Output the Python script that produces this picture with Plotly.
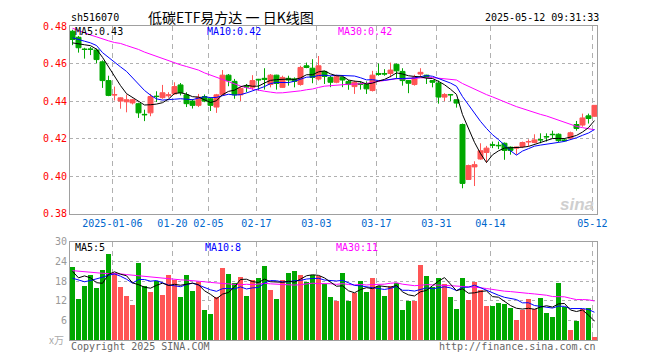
import plotly.graph_objects as go
import pandas as pd

# ---------------- data ----------------
opens = [0.4772, 0.4740, 0.4677, 0.4678, 0.4672, 0.4609, 0.4509, 0.4432, 0.4400, 0.4396,
         0.4390, 0.4386, 0.4329, 0.4337, 0.4426, 0.4418, 0.4428, 0.4438, 0.4486, 0.4433,
         0.4400, 0.4377, 0.4424, 0.4412, 0.4368, 0.4433, 0.4538, 0.4505, 0.4433, 0.4479,
         0.4473, 0.4516, 0.4521, 0.4488, 0.4538, 0.4473, 0.4521, 0.4518, 0.4488, 0.4588,
         0.4575, 0.4517, 0.4558, 0.4526, 0.4500, 0.4526, 0.4505, 0.4477, 0.4495, 0.4488,
         0.4456, 0.4547, 0.4547, 0.4547, 0.4596, 0.4558, 0.4509, 0.4488, 0.4544, 0.4538,
         0.4509, 0.4496, 0.4421, 0.4435, 0.4407, 0.4275, 0.3982, 0.4049, 0.4091, 0.4126,
         0.4167, 0.4164, 0.4175, 0.4154, 0.4149, 0.4158, 0.4182, 0.4179, 0.4195, 0.4211,
         0.4223, 0.4223, 0.4193, 0.4202, 0.4275, 0.4272, 0.4321, 0.4319]
highs = [0.4780, 0.4747, 0.4684, 0.4688, 0.4680, 0.4617, 0.4535, 0.4477, 0.4420, 0.4435,
         0.4412, 0.4391, 0.4354, 0.4438, 0.4452, 0.4486, 0.4447, 0.4500, 0.4496, 0.4447,
         0.4410, 0.4438, 0.4435, 0.4420, 0.4438, 0.4565, 0.4544, 0.4518, 0.4477, 0.4491,
         0.4538, 0.4518, 0.4575, 0.4544, 0.4540, 0.4535, 0.4535, 0.4526, 0.4588, 0.4605,
         0.4623, 0.4640, 0.4561, 0.4535, 0.4540, 0.4530, 0.4512, 0.4509, 0.4505, 0.4505,
         0.4561, 0.4600, 0.4570, 0.4605, 0.4600, 0.4575, 0.4512, 0.4540, 0.4575, 0.4540,
         0.4512, 0.4509, 0.4442, 0.4437, 0.4409, 0.4280, 0.4061, 0.4079, 0.4175, 0.4161,
         0.4184, 0.4184, 0.4179, 0.4158, 0.4156, 0.4184, 0.4196, 0.4223, 0.4228, 0.4228,
         0.4242, 0.4228, 0.4202, 0.4237, 0.4294, 0.4333, 0.4333, 0.4377]
lows = [0.4698, 0.4658, 0.4626, 0.4645, 0.4602, 0.4470, 0.4426, 0.4403, 0.4359, 0.4340,
        0.4382, 0.4310, 0.4293, 0.4319, 0.4395, 0.4412, 0.4418, 0.4433, 0.4430, 0.4368,
        0.4360, 0.4368, 0.4394, 0.4347, 0.4337, 0.4430, 0.4479, 0.4412, 0.4400, 0.4447,
        0.4459, 0.4456, 0.4461, 0.4473, 0.4461, 0.4470, 0.4482, 0.4473, 0.4482, 0.4575,
        0.4495, 0.4509, 0.4491, 0.4474, 0.4495, 0.4474, 0.4460, 0.4438, 0.4461, 0.4438,
        0.4451, 0.4535, 0.4535, 0.4526, 0.4517, 0.4482, 0.4442, 0.4482, 0.4526, 0.4491,
        0.4473, 0.4386, 0.4400, 0.4400, 0.4365, 0.3935, 0.3979, 0.3947, 0.4087, 0.4070,
        0.4149, 0.4144, 0.4087, 0.4114, 0.4114, 0.4149, 0.4158, 0.4175, 0.4175, 0.4184,
        0.4202, 0.4179, 0.4184, 0.4196, 0.4242, 0.4263, 0.4280, 0.4316]
closes = [0.4728, 0.4684, 0.4675, 0.4675, 0.4621, 0.4509, 0.4430, 0.4434, 0.4417, 0.4407,
          0.4407, 0.4337, 0.4327, 0.4424, 0.4424, 0.4444, 0.4433, 0.4477, 0.4444, 0.4386,
          0.4377, 0.4421, 0.4400, 0.4377, 0.4433, 0.4538, 0.4509, 0.4433, 0.4468, 0.4475,
          0.4509, 0.4513, 0.4516, 0.4538, 0.4494, 0.4526, 0.4512, 0.4505, 0.4579, 0.4579,
          0.4526, 0.4588, 0.4531, 0.4500, 0.4530, 0.4512, 0.4488, 0.4500, 0.4488, 0.4465,
          0.4538, 0.4542, 0.4544, 0.4565, 0.4561, 0.4509, 0.4495, 0.4526, 0.4553, 0.4526,
          0.4500, 0.4421, 0.4435, 0.4433, 0.4389, 0.3961, 0.4056, 0.4061, 0.4135, 0.4149,
          0.4165, 0.4162, 0.4137, 0.4137, 0.4154, 0.4179, 0.4184, 0.4193, 0.4193, 0.4209,
          0.4221, 0.4189, 0.4189, 0.4231, 0.4254, 0.4310, 0.4307, 0.4377]
volumes = [22.4, 12.7, 16.6, 19.9, 16.0, 21.5, 26.3, 20.5, 16.3, 13.6,
           10.6, 23.6, 16.6, 14.8, 18.0, 13.9, 20.0, 18.5, 13.3, 20.0,
           15.1, 17.7, 9.1, 7.9, 13.3, 22.1, 20.3, 17.5, 19.4, 13.6,
           18.5, 18.9, 22.7, 15.4, 12.7, 18.5, 20.6, 21.2, 20.0, 17.9,
           20.0, 19.7, 17.3, 13.3, 11.9, 20.6, 12.1, 14.3, 18.2, 14.8,
           19.1, 16.6, 13.6, 16.6, 17.6, 9.1, 12.1, 11.9, 23.0, 19.7,
           16.3, 19.1, 17.3, 13.3, 9.4, 19.1, 12.4, 17.9, 15.4, 10.3,
           10.3, 11.5, 10.9, 9.7, 6.1, 9.1, 12.7, 9.4, 13.0, 8.2,
           7.0, 17.6, 10.0, 3.1, 5.8, 9.4, 9.7, 1.0]

# moving-average values before enough history exists
ma5_head = [0.4710, 0.4703, 0.4700, 0.4695]
ma10_head = [0.4737, 0.4726, 0.4719, 0.4710, 0.4696, 0.4658, 0.4631, 0.4605, 0.4582]
ma30_head = [0.4788, 0.4775, 0.4765, 0.4752, 0.4742, 0.4730, 0.4721, 0.4712, 0.4707, 0.4696,
             0.4687, 0.4675, 0.4661, 0.4649, 0.4637, 0.4626, 0.4616, 0.4603, 0.4593, 0.4584,
             0.4575, 0.4565, 0.4550, 0.4538, 0.4525, 0.4512, 0.4500, 0.4490, 0.4480]
vma5_head = [21.0, 19.0, 19.6, 19.0]
vma10_head = [18.9, 18.3, 17.8, 18.2, 18.6, 19.2, 19.8, 20.2, 19.5]
vma30_head = [21.2, 21.0, 20.8, 20.7, 20.5, 20.4, 20.3, 20.3, 20.2, 20.0,
              19.8, 19.6, 19.5, 19.3, 19.0, 18.8, 18.6, 18.5, 18.4, 18.3,
              18.2, 18.0, 17.8, 17.6, 17.4, 17.2, 17.0, 17.0, 16.9]

tick_index = [7, 17, 23, 31, 41, 51, 61, 70, 87]
tick_labels = ["2025-01-06", "01-20", "02-05", "02-17", "03-03", "03-17", "03-31", "04-14", "05-12"]

code = "sh516070"
title = "低碳ETF易方达 一 日K线图"
stamp = "2025-05-12 09:31:33"
price_ticks = [0.38, 0.40, 0.42, 0.44, 0.46, 0.48]
vol_ticks = [6, 12, 18, 24, 30]

# ---------------- computations ----------------
n = len(closes)
idx = list(range(n))


def ma(values, w, head):
    s = pd.Series(values).rolling(w).mean().tolist()
    return list(head) + s[len(head):]


ma5 = ma(closes, 5, ma5_head)
ma10 = ma(closes, 10, ma10_head)
ma30 = ma(closes, 30, ma30_head)
vma5 = ma(volumes, 5, vma5_head)
vma10 = ma(volumes, 10, vma10_head)
vma30 = ma(volumes, 30, vma30_head)

RED = "#ff5555"
GREEN = "#00a800"
vol_colors = [RED if c >= o else GREEN for o, c in zip(opens, closes)]

# ---------------- geometry ----------------
OFF = 8                      # page body margin offset
W, H = 660 - OFF, 360 - OFF
L, T = 70 - OFF, 21 - OFF
R = W - (597 - OFF)
B = H - (340 - OFF)
PW = W - L - R
PH = H - T - B
price_dom = [0.4025, 1.0]
vol_dom = [0.0, 0.3125]
xr = [-0.42, 87.42]
grid_x = [i - 0.35 for i in tick_index]


def px(x):
    return (x - OFF - L) / PW


def py(y):
    return (H - B - (y - OFF)) / PH


mono = "DejaVu Sans Mono"

fig = go.Figure()

fig.add_trace(go.Candlestick(
    x=idx, open=opens, high=highs, low=lows, close=closes,
    increasing=dict(line=dict(color=RED, width=1), fillcolor=RED),
    decreasing=dict(line=dict(color=GREEN, width=1), fillcolor=GREEN),
    whiskerwidth=0, xaxis="x", yaxis="y", showlegend=False, hoverinfo="skip"))

for series, col in [(ma30, "#ff00ff"), (ma10, "#0000ff"), (ma5, "#000000")]:
    fig.add_trace(go.Scatter(x=idx, y=series, mode="lines", line=dict(color=col, width=1),
                             xaxis="x", yaxis="y", showlegend=False, hoverinfo="skip"))

fig.add_trace(go.Bar(x=idx, y=volumes, marker=dict(color=vol_colors, line=dict(width=0)),
                     width=0.83, xaxis="x2", yaxis="y2", showlegend=False, hoverinfo="skip"))
for series, col in [(vma30, "#ff00ff"), (vma10, "#0000ff"), (vma5, "#000000")]:
    fig.add_trace(go.Scatter(x=idx, y=series, mode="lines", line=dict(color=col, width=1),
                             xaxis="x2", yaxis="y2", showlegend=False, hoverinfo="skip"))

axis_common = dict(showline=True, mirror=True, linecolor="#a0a0a0", linewidth=1,
                   zeroline=False, ticks="", fixedrange=True)

fig.update_layout(
    width=W, height=H,
    margin=dict(l=L, r=R, t=T, b=B),
    paper_bgcolor="white", plot_bgcolor="white",
    boxgap=0.17, boxgroupgap=0,
    bargap=0,
    xaxis=dict(domain=[0, 1], anchor="y", range=xr, tickmode="array",
               tickvals=grid_x, ticktext=tick_labels,
               tickfont=dict(family=mono, size=10, color="#0066cc"),
               showgrid=True, gridcolor="#b0b0b0", griddash="5px,4px", gridwidth=1,
               rangeslider=dict(visible=False), **axis_common),
    yaxis=dict(domain=price_dom, anchor="x", range=[0.38, 0.48], tickmode="array",
               tickvals=price_ticks, ticktext=[f"{v:.2f}" for v in price_ticks],
               tickfont=dict(family=mono, size=10, color="#ff0000"),
               showgrid=True, gridcolor="#b0b0b0", griddash="dot", gridwidth=1,
               **axis_common),
    xaxis2=dict(domain=[0, 1], anchor="y2", range=xr, tickmode="array",
                tickvals=grid_x, showticklabels=False,
                showgrid=True, gridcolor="#b0b0b0", griddash="5px,4px", gridwidth=1,
                **axis_common),
    yaxis2=dict(domain=vol_dom, anchor="x2", range=[0, 30], tickmode="array",
                tickvals=vol_ticks, ticktext=[str(v) for v in vol_ticks],
                tickfont=dict(family=mono, size=10, color="#999999"),
                showgrid=True, gridcolor="#b0b0b0", griddash="dot", gridwidth=1,
                **axis_common),
)

ann = []


def text(x, y, s, color="#000", size=10, family=mono, xanchor="left", **kw):
    ann.append(dict(x=px(x), y=py(y), xref="paper", yref="paper", text=s, showarrow=False,
                    xanchor=xanchor, yanchor="middle",
                    font=dict(family=family, size=size, color=color, **kw)))


text(69, 12, code, size=10)
text(231, 12, title, size=14, family="Noto Sans CJK SC", xanchor="center")
text(601, 12, stamp, size=10, xanchor="right")

text(73, 27, f"MA5:{ma5[-1]:.2f}", color="#000000")
text(205, 27, f"MA10:{ma10[-1]:.2f}", color="#0000ff")
text(336, 27, f"MA30:{ma30[-1]:.2f}", color="#ff00ff")

text(73, 246, f"MA5:{int(vma5[-1])}", color="#000000")
text(203, 246, f"MA10:{int(vma10[-1])}", color="#0000ff")
text(334, 246, f"MA30:{int(vma30[-1])}", color="#ff00ff")

text(66, 339, "x万", color="#aaaaaa", xanchor="right", family="Noto Sans CJK SC", size=10)
text(69, 347, "Copyright 2025 SINA.COM", color="#666666")
text(598, 347, "http://finance.sina.com.cn", color="#666666", xanchor="right")
text(596, 202, "sina", color="#cfcfcf", size=17, family="Liberation Sans", xanchor="right",
     style="italic", weight="bold")

fig.update_layout(annotations=ann)

fig.write_html("out.html")
